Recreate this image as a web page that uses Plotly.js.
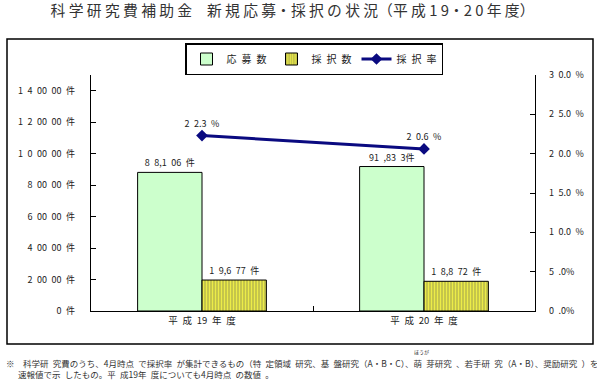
<!DOCTYPE html>
<html><head><meta charset="utf-8">
<script src="https://cdn.plot.ly/plotly-3.0.1.min.js"></script>
<style>html,body{margin:0;padding:0;background:#fff;}#chart{width:597px;height:380px;}</style>
</head><body><div id="chart"></div>
<script>
// ---- data ----
const categories = ['平 成 19 年 度', '平 成 20 年 度'];
const applications = [88106, 91833];
const applicationLabels = ['8 8,1 06 件', '91 ,83 3件'];
const adoptions = [19677, 18872];
const adoptionLabels = ['1 9,6 77 件', '1 8,8 72 件'];
const adoptionRate = [22.3, 20.6];
const adoptionRateLabels = ['2 2.3 %', '2 0.6 %'];
const leftTickVals = [0, 20000, 40000, 60000, 80000, 100000, 120000, 140000];
const leftTickText = ['0 件', '2 00 00 件', '4 00 00 件', '6 00 00 件', '8 00 00 件', '1 0 00 00 件', '1 2 00 00 件', '1 4 00 00 件'];
const rightTickVals = [0, 5, 10, 15, 20, 25, 30];
const rightTickText = ['0 .0%', '5 .0%', '1 0.0 %', '1 5.0 %', '2 0.0 %', '2 5.0 %', '3 0.0 %'];
const seriesNames = ['応 募 数', '採 択 数', '採 択 率'];
const titleText = '科 学 研 究 費 補 助 金　新 規 応 募・採 択 の 状 況（平 成 1 9・2 0 年 度）';
const noteLine1 = '※　科学研 究費のうち、4月時点 で採択率 が集計できるもの（特 定領域 研究、基 盤研究（A・B・C）、萌 芽研究 、若手研 究（A・B）、奨励研究 ）を';
const noteLine2 = '速報値で示 したもの。平 成19年 度についても4月時点 の数値 。';
const noteRuby = 'ほうが';

// visible wide spacing (en space) as in the reference
const sp = s => s.replace(/ /g, '\u2002');

// ---- layout helpers (pixel -> paper) ----
const PL = 91, PR = 535, PT = 75, PB = 311;
const px = x => (x - PL) / (PR - PL);
const py = y => (PB - y) / (PB - PT);
const FONT = '"Noto Sans CJK JP", "Noto Sans", sans-serif';
const cats = categories.map(sp);

const traces = [
  {type: 'bar', name: sp(seriesNames[0]), x: cats, y: applications,
   text: applicationLabels.map(sp), textposition: 'outside', cliponaxis: false,
   textfont: {size: 9, color: '#222', family: FONT},
   marker: {color: '#ccffcc', line: {color: '#000', width: 1}}},
  {type: 'bar', name: sp(seriesNames[1]), x: cats, y: adoptions,
   text: adoptionLabels.map(sp), textposition: 'outside', cliponaxis: false,
   textfont: {size: 9, color: '#222', family: FONT},
   marker: {color: '#cccc50', line: {color: '#000', width: 1},
            pattern: {shape: '|', bgcolor: '#b8b84c', fgcolor: '#ecec48', size: 3, solidity: 0.5}}},
  {type: 'scatter', mode: 'lines+markers+text', name: sp(seriesNames[2]), x: cats, y: adoptionRate,
   yaxis: 'y2', text: adoptionRateLabels.map(sp), textposition: 'top center', cliponaxis: false,
   textfont: {size: 9, color: '#222', family: FONT},
   line: {color: '#0a0a80', width: 3},
   marker: {symbol: 'diamond', size: 9, color: '#0a0a80'}}
];

const layout = {
  width: 597, height: 380,
  margin: {l: PL, r: 597 - PR, t: PT, b: 380 - PB},
  paper_bgcolor: '#fff', plot_bgcolor: '#fff',
  font: {family: FONT, size: 9, color: '#222'},
  title: {text: titleText,
          x: 0.49, xanchor: 'center', y: 1 - 11 / 380, yanchor: 'middle',
          font: {size: 14.8, color: '#333', family: FONT}},
  barmode: 'group', bargap: 0.42, bargroupgap: 0,
  showlegend: true,
  legend: {orientation: 'h', x: px(185), y: py(43), xanchor: 'left', yanchor: 'top',
           bordercolor: '#000', borderwidth: 1.5, bgcolor: '#fff',
           font: {size: 10, color: '#222', family: FONT}, itemwidth: 30,
           tracegroupgap: 0, traceorder: 'normal'},
  xaxis: {type: 'category', showline: true, linecolor: '#000', linewidth: 1.2,
          ticks: 'inside', tickson: 'boundaries', ticklen: 5, tickcolor: '#000',
          tickfont: {size: 9.5, color: '#222'}, showgrid: false, zeroline: false, fixedrange: true},
  yaxis: {range: [0, 150000], tickvals: leftTickVals, ticktext: leftTickText.map(sp),
          showline: true, linecolor: '#000', linewidth: 1.2, ticks: 'inside', ticklen: 5,
          tickcolor: '#000', ticklabelstandoff: 13, showgrid: false, zeroline: false,
          tickfont: {size: 9, color: '#222'}},
  yaxis2: {range: [0, 30], tickvals: rightTickVals, ticktext: rightTickText.map(sp), overlaying: 'y',
           side: 'right', showline: true, linecolor: '#000', linewidth: 1.2, ticks: 'inside',
           ticklen: 5, tickcolor: '#000', ticklabelstandoff: 11, showgrid: false, zeroline: false,
           tickfont: {size: 9, color: '#222'}},
  shapes: [
    {type: 'rect', xref: 'paper', yref: 'paper', x0: px(7), x1: px(593), y0: py(344), y1: py(39),
     line: {color: '#000', width: 1.5}, fillcolor: 'rgba(0,0,0,0)', layer: 'below'}
  ],
  annotations: [
    {xref: 'paper', yref: 'paper', x: px(4), y: py(363), xanchor: 'left', yanchor: 'middle', showarrow: false,
     text: sp(noteLine1), font: {size: 8.5, color: '#333'}},
    {xref: 'paper', yref: 'paper', x: px(16), y: py(374), xanchor: 'left', yanchor: 'middle', showarrow: false,
     text: sp(noteLine2), font: {size: 8.5, color: '#333'}},
    {xref: 'paper', yref: 'paper', x: px(421), y: py(352), xanchor: 'center', yanchor: 'middle', showarrow: false,
     text: noteRuby, font: {size: 5, color: '#333'}}
  ]
};

Plotly.newPlot('chart', traces, layout, {staticPlot: true, displayModeBar: false});
</script></body></html>
